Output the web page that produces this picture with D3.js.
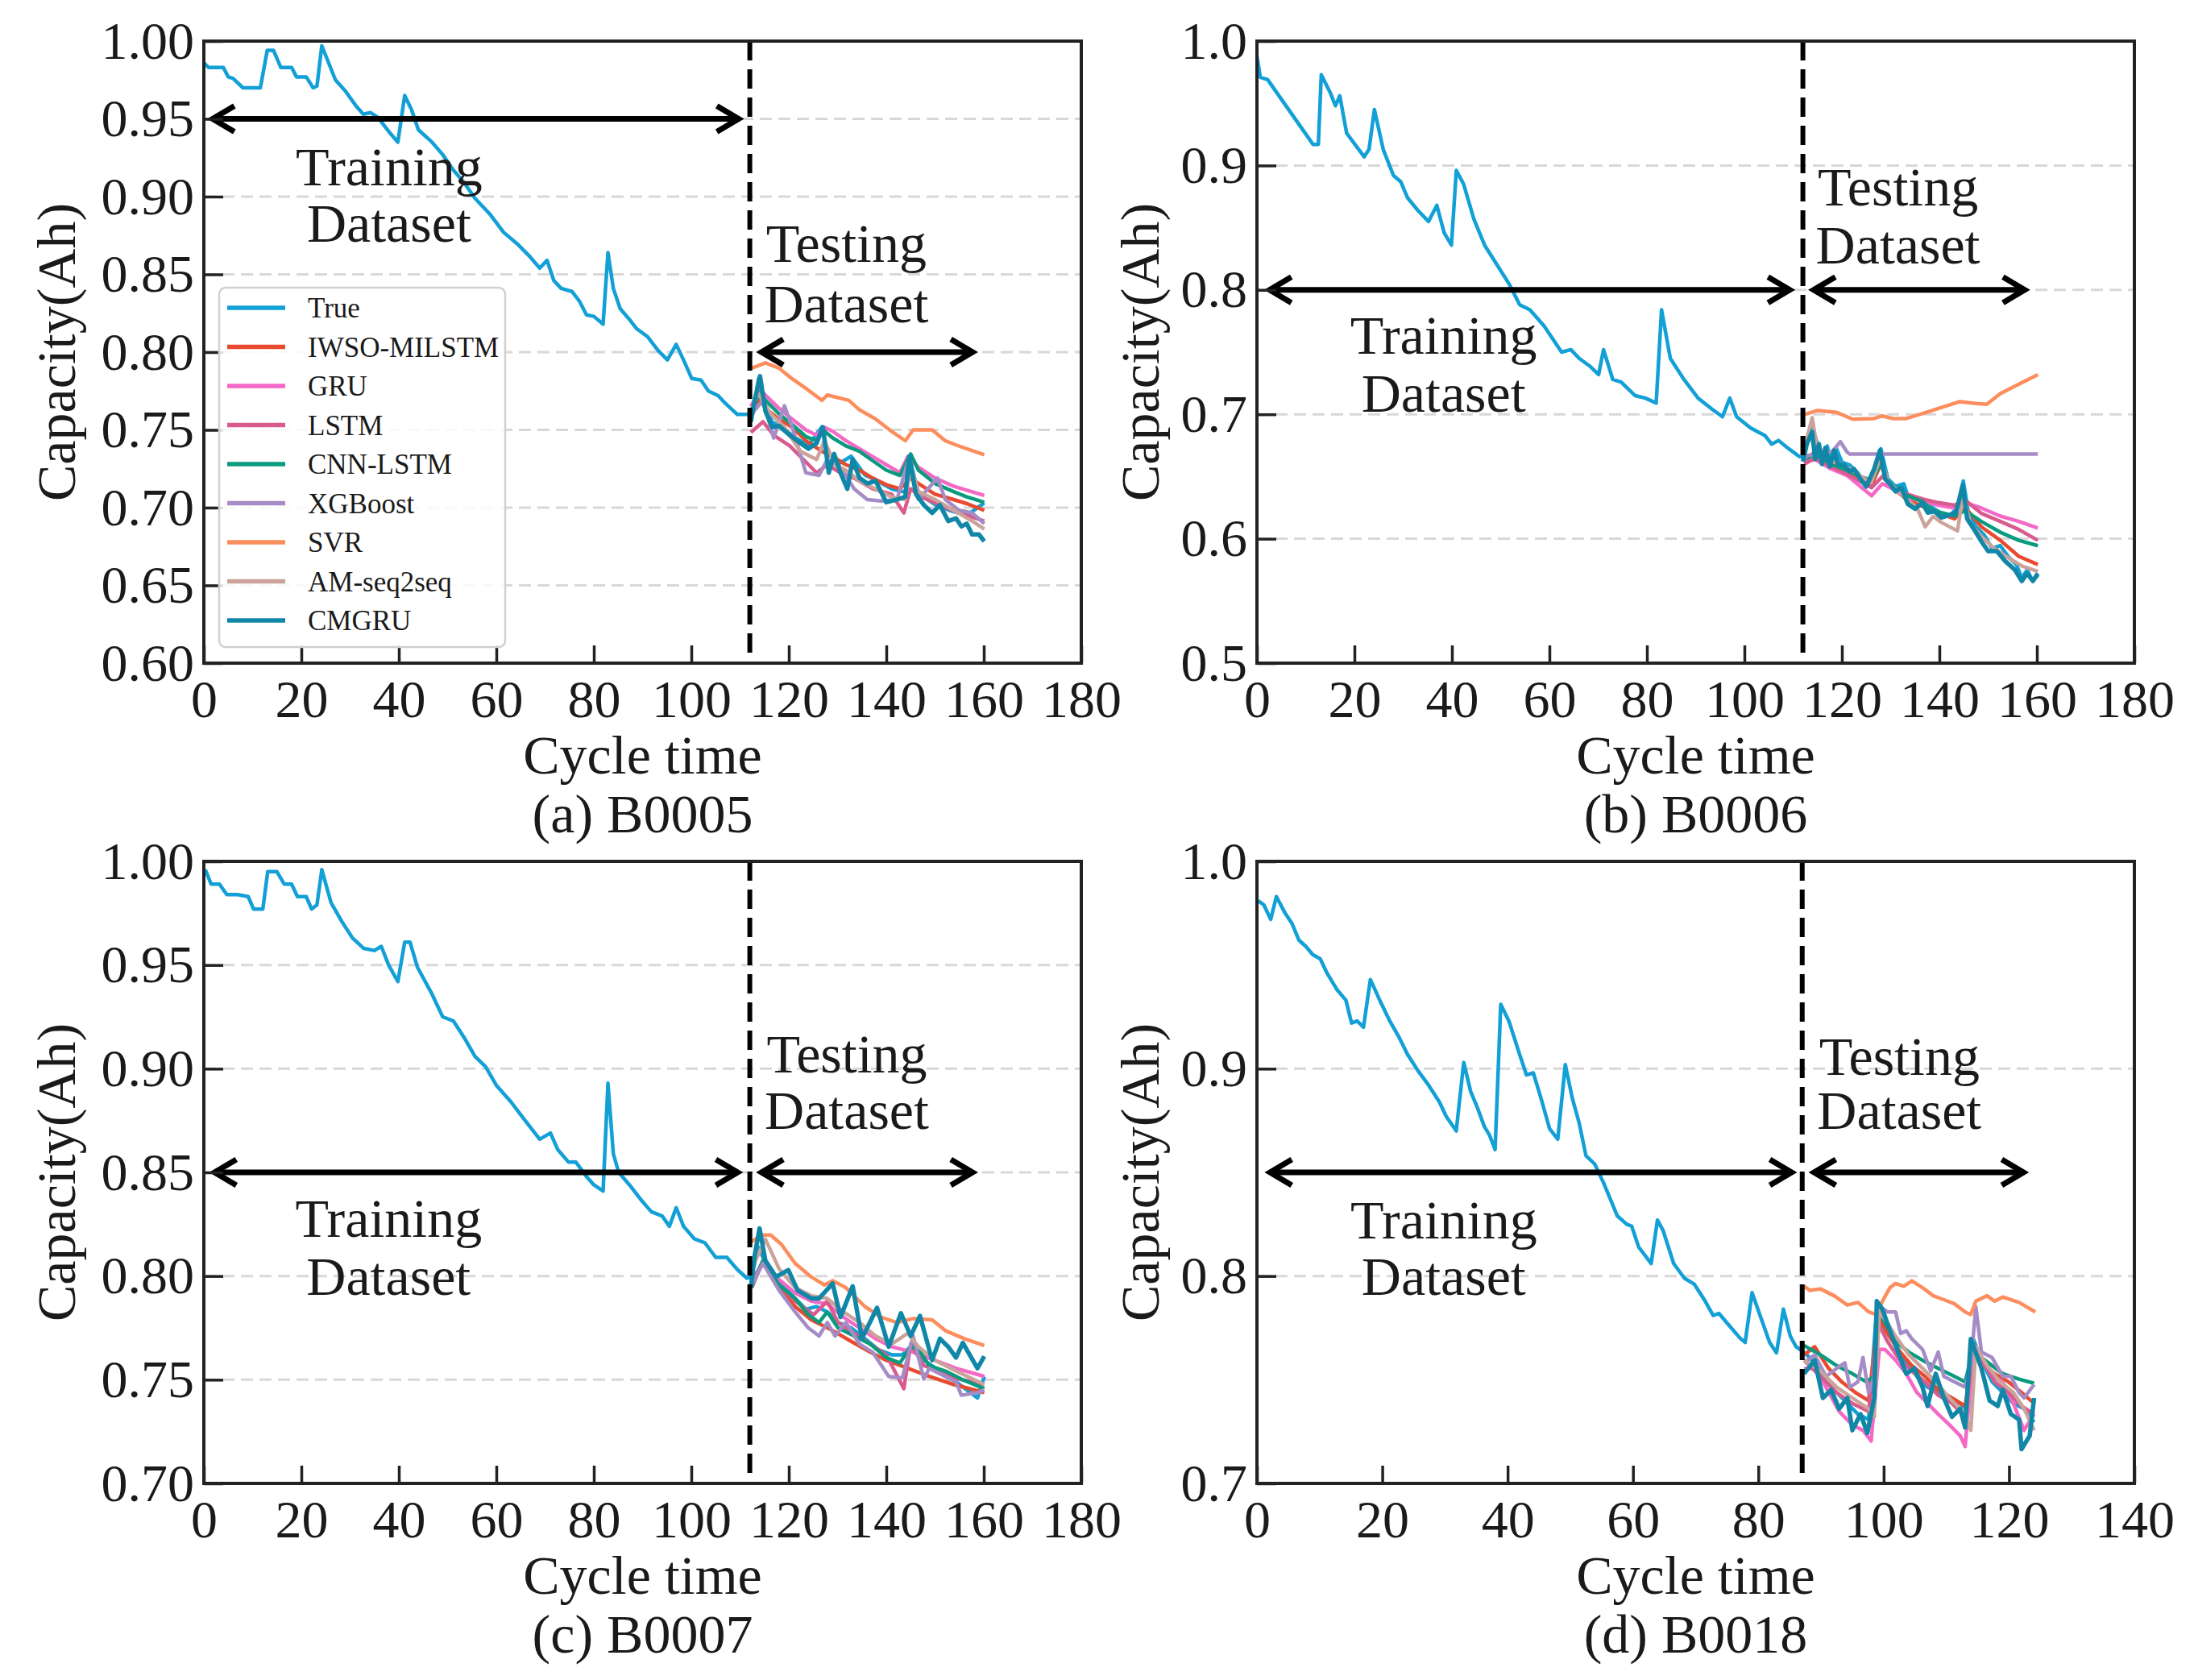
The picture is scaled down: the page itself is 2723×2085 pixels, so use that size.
<!DOCTYPE html>
<html>
<head>
<meta charset="utf-8">
<script src="https://cdn.jsdelivr.net/npm/d3@7"></script>
<style>
  body { margin: 0; background: #fff; }
  text { font-family: "Liberation Serif", "Times New Roman", serif; fill: #1a1a1a; }
</style>
</head>
<body>
<div id="chart"></div>
<script>
// Series names and colours (legend order)
const seriesNames = ["True", "IWSO-MILSTM", "GRU", "LSTM", "CNN-LSTM", "XGBoost", "SVR", "AM-seq2seq", "CMGRU"];
const seriesColors = ["#12a0d7", "#e84a2f", "#f569c6", "#d95b8e", "#0a9b7f", "#a68cc6", "#fc8e5e", "#cba39b", "#1187a8"];

// ---------- B0005 : [cycle, capacity] ----------
const b5True = [[0,0.986],[1,0.983],[2.5,0.983],[4,0.983],[5,0.977],[6,0.976],[8,0.970],[9,0.970],[11.6,0.970],[13,0.994],[14.3,0.994],[15.8,0.983],[18,0.983],[19,0.977],[21,0.977],[22.4,0.970],[23.2,0.971],[24.2,0.997],[27,0.975],[29,0.968],[31.3,0.958],[32.7,0.953],[34.2,0.954],[35.7,0.951],[37.9,0.942],[39.8,0.935],[41.2,0.965],[42.6,0.956],[44,0.943],[46.8,0.935],[49,0.927],[51.2,0.917],[53.4,0.909],[55.6,0.899],[58.6,0.889],[61.5,0.877],[64.5,0.869],[66.7,0.862],[68.9,0.854],[70.4,0.859],[71.8,0.846],[73.3,0.841],[75.5,0.839],[77,0.833],[78.5,0.824],[80,0.823],[81.9,0.818],[82.9,0.864],[84,0.841],[85.4,0.828],[87.3,0.821],[88.8,0.815],[91,0.810],[93.2,0.801],[95.1,0.795],[96.9,0.805],[98.4,0.795],[100.1,0.783],[102,0.782],[103.5,0.775],[105.5,0.772],[107,0.767],[109.4,0.760],[111.6,0.760],
  [112.1,0.7586],[113,0.767],[113.8,0.783],[114.9,0.766],[116.6,0.755],[118.5,0.752],[121.3,0.745],[124,0.740],[126.8,0.752],[127.9,0.736],[130.1,0.728],[132.8,0.733],[135.6,0.721],[138.3,0.717],[141.1,0.712],[143.9,0.710],[144.7,0.733],[146.6,0.709],[150,0.702],[153.2,0.698],[156.5,0.695],[160.1,0.703]];
const b5Iwso = [[112.2,0.758],[114.1,0.770],[115.2,0.7638],[118,0.7569],[120.7,0.7517],[123.5,0.7431],[126.8,0.7362],[129,0.7328],[131.7,0.7276],[134.5,0.7241],[137.2,0.7190],[140,0.7147],[142.8,0.7121],[145,0.7190],[146.6,0.7155],[150,0.7086],[153.8,0.7052],[156.5,0.7026],[160.1,0.6983]];
const b5Gru = [[112.2,0.765],[114.1,0.776],[115.2,0.7724],[118,0.7638],[120.7,0.7569],[123.5,0.7500],[125.7,0.7466],[127.3,0.7517],[129,0.7491],[131.7,0.7431],[134.5,0.7379],[137.2,0.7328],[140,0.7276],[142.8,0.7224],[144.4,0.7328],[146.6,0.7259],[150,0.7190],[153.8,0.7138],[156.5,0.7112],[160.1,0.7078]];
const b5Lstm = [[112.2,0.7483],[114.7,0.7552],[116.9,0.7466],[120.2,0.7397],[123.5,0.7293],[125.7,0.7224],[127.9,0.7276],[130.6,0.7224],[133.4,0.7190],[137.2,0.7121],[141.1,0.7086],[143.6,0.6966],[145,0.7121],[147.2,0.7069],[151,0.7017],[154.9,0.6966],[160.1,0.6914]];
const b5Cnn = [[112.2,0.762],[114.1,0.774],[115.2,0.7690],[118,0.7603],[120.7,0.7534],[123.5,0.7457],[125.7,0.7431],[127,0.7500],[129,0.7448],[131.7,0.7397],[134.5,0.7362],[137.2,0.7302],[140,0.7241],[142.8,0.7207],[145,0.7345],[146.6,0.7241],[150,0.7155],[153.8,0.7103],[156.5,0.7069],[160.1,0.7034]];
const b5Xgb = [[112.4,0.7603],[114.7,0.7690],[116.9,0.7448],[119.1,0.7655],[120.7,0.7517],[123.5,0.7224],[126.2,0.7207],[127.9,0.7310],[130.6,0.7259],[133.4,0.7121],[136.1,0.7052],[138.9,0.7043],[142.2,0.7052],[144.4,0.7293],[146.6,0.7052],[150.5,0.7190],[152.1,0.7052],[154.9,0.6983],[157.6,0.6966],[160.1,0.6897]];
const b5Svr = [[112.4,0.7897],[115.2,0.7931],[118,0.7897],[120.7,0.7828],[123.5,0.7767],[126.8,0.7690],[127.9,0.7724],[132.3,0.7690],[134.5,0.7629],[137.8,0.757],[141.1,0.749],[143.9,0.743],[145.5,0.750],[149.4,0.750],[152.1,0.743],[155.4,0.739],[160.1,0.734]];
const b5Am = [[112.2,0.760],[113.6,0.7741],[116.3,0.7603],[119.1,0.7517],[122.4,0.7362],[125.7,0.7310],[127.3,0.7431],[129.5,0.7276],[131.7,0.7241],[134.5,0.7172],[137.8,0.7121],[141.1,0.7069],[143.9,0.7052],[145,0.7276],[146.6,0.7103],[150,0.7052],[153.8,0.6983],[157.6,0.6914],[160.1,0.6862]];
const b5Cmgru = [[112.2,0.7552],[113,0.7690],[114.1,0.7845],[115.2,0.7621],[116.6,0.7517],[118,0.7526],[120.2,0.7466],[122.4,0.7414],[124,0.7379],[125.7,0.7414],[127,0.7517],[128.2,0.7224],[129.3,0.7345],[130.6,0.7224],[132,0.7121],[133.1,0.7310],[134.5,0.7190],[136.1,0.7155],[137.8,0.7172],[140,0.7034],[142.2,0.7052],[143.9,0.7069],[144.7,0.7328],[146.1,0.7086],[147.7,0.7017],[149.4,0.6966],[151,0.7017],[152.7,0.6914],[154.3,0.6931],[155.4,0.6879],[156.5,0.6897],[157.6,0.6828],[159,0.6828],[160.1,0.6784]];

// ---------- B0006 ----------
const b6True = [[0,0.988],[0.7,0.971],[2.2,0.969],[11.5,0.917],[12.6,0.917],[13.2,0.973],[15.1,0.958],[16.1,0.948],[17,0.956],[18.4,0.926],[20.1,0.917],[22,0.907],[23,0.913],[24.1,0.945],[25.9,0.913],[28,0.892],[29.5,0.887],[30.9,0.874],[33,0.864],[35.2,0.855],[36.9,0.868],[38.4,0.846],[39.9,0.836],[40.9,0.896],[42.4,0.885],[44.5,0.857],[46.7,0.836],[49.6,0.818],[51.7,0.805],[53.9,0.788],[56,0.784],[58.9,0.771],[62.5,0.750],[64.4,0.752],[66.1,0.745],[68.2,0.739],[70.1,0.732],[71.1,0.752],[73,0.728],[74.7,0.726],[77.6,0.715],[79.7,0.713],[81.9,0.709],[83,0.784],[84.8,0.745],[87.6,0.728],[90.5,0.713],[93.4,0.704],[95.5,0.698],[97,0.713],[98.4,0.698],[101.3,0.689],[104.2,0.683],[105.6,0.676],[107,0.679],[109.2,0.672],[111.3,0.666],
  [112,0.6658],[112.8,0.6810],[113.9,0.6896],[114.8,0.6788],[115.9,0.6637],[117,0.6745],[117.8,0.6593],[118.9,0.6723],[120,0.6615],[121.6,0.6593],[123.3,0.6528],[125,0.6442],[126.6,0.6528],[128,0.6723],[129.4,0.6485],[131,0.6420],[132.7,0.6442],[133.8,0.6312],[135.4,0.6269],[137.1,0.6290],[138.7,0.6247],[140.4,0.6204],[142,0.6182],[143.7,0.6247],[144.9,0.6464],[145.9,0.6225],[147.5,0.6096],[149.2,0.6031],[150.8,0.5922],[152.5,0.5944],[154.1,0.5858],[155.8,0.5793],[156.9,0.5684],[158,0.5749],[159.1,0.5662],[160.2,0.5706]];
const b6Iwso = [[112.3,0.662],[114.5,0.670],[117.8,0.660],[121.1,0.654],[123.8,0.648],[126.1,0.643],[128,0.660],[129.4,0.645],[131,0.639],[133.2,0.632],[136.5,0.626],[139.8,0.621],[143.1,0.616],[145.3,0.625],[148.6,0.6096],[152.5,0.5987],[156.3,0.5858],[160.2,0.5793]];
const b6Gru = [[112.3,0.6615],[114.5,0.6637],[117.8,0.6561],[121.1,0.6507],[123.8,0.6420],[126.1,0.6345],[128.3,0.6442],[130.5,0.6399],[133.2,0.6334],[136.5,0.6301],[139.8,0.6269],[143.1,0.6247],[145.3,0.6290],[148.6,0.6247],[152.5,0.6182],[156.3,0.6139],[160.2,0.6085]];
const b6Lstm = [[112.3,0.660],[114.5,0.665],[117.8,0.658],[121.1,0.652],[123.8,0.646],[126.1,0.641],[128.3,0.650],[130.5,0.641],[133.2,0.636],[136.5,0.632],[139.8,0.629],[143.1,0.627],[145.3,0.631],[148.6,0.6204],[152.5,0.6139],[156.3,0.6074],[160.2,0.5987]];
const b6Cnn = [[112.3,0.664],[114.5,0.668],[117.8,0.660],[121.1,0.655],[123.8,0.650],[126.1,0.647],[128,0.660],[129.4,0.647],[131,0.641],[133.2,0.635],[136.5,0.630],[138.7,0.6225],[140.4,0.621],[143.1,0.6182],[145.3,0.6225],[148.6,0.6139],[152.5,0.6052],[156.3,0.5987],[160.2,0.5944]];
const b6Xgb = [[112,0.663],[113,0.667],[115,0.668],[118,0.670],[119.7,0.678],[121,0.670],[121.6,0.668],[160.2,0.668]];
const b6Svr = [[112,0.6994],[115,0.7031],[118.9,0.7016],[122.2,0.6961],[126.6,0.6966],[128.3,0.6987],[130.5,0.6966],[133.2,0.6966],[136.5,0.7005],[139.8,0.7048],[144.2,0.7102],[147.5,0.7087],[149.7,0.7080],[152.5,0.7167],[156.3,0.7243],[160.2,0.7319]];
const b6Am = [[112,0.668],[113.9,0.6972],[114.8,0.676],[116,0.670],[117.8,0.662],[120,0.660],[122.2,0.655],[124,0.650],[126,0.645],[127.9,0.665],[129.4,0.647],[131,0.640],[133.2,0.632],[135.4,0.625],[137.1,0.6096],[138.7,0.618],[140.4,0.6131],[143.7,0.6063],[144.9,0.6355],[146.4,0.6117],[148.6,0.602],[151,0.593],[154,0.585],[157,0.578],[160.2,0.5738]];
const b6Cmgru = [[112,0.662],[112.8,0.676],[113.9,0.686],[114.5,0.664],[115.3,0.676],[115.9,0.660],[116.6,0.673],[117.5,0.658],[118.4,0.671],[119.2,0.660],[120.5,0.659],[121.6,0.654],[122.5,0.656],[123.8,0.648],[125,0.642],[126.6,0.656],[127.8,0.671],[128.9,0.648],[129.9,0.644],[131,0.638],[132.2,0.641],[133.5,0.628],[135,0.624],[136.5,0.629],[137.6,0.621],[139,0.622],[140.4,0.617],[142,0.619],[143.4,0.621],[144.8,0.643],[145.7,0.616],[147.2,0.607],[148.6,0.598],[150,0.590],[151.8,0.590],[153.5,0.582],[155.5,0.575],[156.9,0.566],[158,0.572],[159.2,0.566],[160.2,0.572]];

// ---------- B0007 ----------
const b7True = [[0.3,0.996],[1.5,0.989],[3.2,0.989],[4.7,0.984],[6.9,0.984],[9.1,0.983],[10.2,0.977],[12.1,0.977],[13.1,0.995],[15,0.995],[16.5,0.989],[18,0.989],[19.2,0.983],[21,0.983],[22.1,0.977],[23.2,0.979],[24.2,0.996],[26.1,0.980],[28.3,0.971],[30.5,0.963],[32.8,0.958],[35,0.957],[36.4,0.959],[37.9,0.950],[39.8,0.942],[41.2,0.961],[42.3,0.961],[43.8,0.949],[46.8,0.936],[49,0.925],[51.2,0.923],[53.4,0.915],[55.6,0.906],[57.8,0.901],[60,0.892],[63,0.884],[65.9,0.875],[68.9,0.866],[71.1,0.869],[72.6,0.861],[74.8,0.855],[76.3,0.855],[78.5,0.848],[80,0.844],[81.9,0.841],[82.9,0.893],[84,0.859],[85.1,0.850],[87.3,0.844],[89.6,0.837],[91.8,0.831],[94,0.829],[95.5,0.824],[96.9,0.833],[98.4,0.824],[100.6,0.818],[102.8,0.816],[105,0.809],[107.3,0.809],[109.5,0.803],[111.4,0.799],
  [112.2,0.7996],[113,0.8061],[113.8,0.8139],[115.2,0.8061],[118,0.7970],[121.3,0.7892],[123.5,0.7840],[125.7,0.7853],[127.9,0.7827],[130.1,0.7776],[132.8,0.7750],[135.6,0.7698],[138.3,0.7646],[141.1,0.7620],[143.3,0.7620],[145.5,0.7672],[147.7,0.7594],[151,0.7542],[154.3,0.7490],[156.5,0.7451],[158.7,0.7412],[160.1,0.7516]];
const b7Iwso = [[112.4,0.7944],[114.7,0.8074],[118,0.7944],[121.3,0.7853],[124.6,0.7789],[129,0.7737],[132.8,0.7685],[136.7,0.7633],[140,0.7594],[144.4,0.7555],[148.8,0.7516],[153.8,0.7477],[160.1,0.7438]];
const b7Gru = [[112.4,0.7983],[114.7,0.8061],[118,0.7983],[121.3,0.7918],[124.6,0.7879],[127.9,0.7866],[131.2,0.7802],[134.5,0.7750],[137.8,0.7698],[141.1,0.7659],[145.5,0.7633],[149.9,0.7594],[154.3,0.7555],[160.1,0.7516]];
const b7Lstm = [[112.4,0.7957],[114.7,0.8074],[118,0.7957],[121.3,0.7879],[125.1,0.7814],[127.9,0.7879],[130.1,0.7776],[133.4,0.7724],[136.7,0.7672],[140,0.7620],[143.6,0.7457],[145,0.7672],[147.7,0.7568],[151,0.7542],[154.9,0.7503],[160.1,0.7477]];
const b7Cnn = [[112.4,0.7951],[114.7,0.8074],[118,0.7957],[121.3,0.7892],[124,0.7814],[126.2,0.7776],[127.9,0.7827],[130.1,0.7750],[133.4,0.7711],[136.7,0.7672],[140,0.7607],[142.8,0.7581],[145,0.7659],[146.6,0.7646],[148.8,0.7568],[152.1,0.7542],[155.4,0.7503],[160.1,0.7457]];
const b7Xgb = [[112.4,0.7957],[114.7,0.8061],[118,0.7931],[121.3,0.7827],[124,0.7750],[126.2,0.7711],[127.9,0.7776],[129.5,0.7711],[131.7,0.7776],[134.5,0.7672],[137.2,0.7633],[140.5,0.7516],[143.3,0.7509],[145.5,0.7711],[147.7,0.7503],[148.8,0.7555],[151,0.7529],[154.3,0.7490],[155.4,0.7425],[158.7,0.7438],[160.1,0.7451]];
const b7Svr = [[112.2,0.8165],[114.7,0.8198],[116.3,0.8198],[118.5,0.8152],[121.3,0.8061],[124.6,0.7996],[127.3,0.7957],[129,0.7977],[131.7,0.7944],[135.6,0.7853],[138.9,0.7802],[142.2,0.7776],[145.5,0.7795],[149.4,0.7789],[152.1,0.7737],[156,0.7698],[160.1,0.7665]];
const b7Am = [[112.4,0.8035],[115.2,0.8178],[118,0.8035],[121.3,0.7944],[124.6,0.7905],[127.9,0.7892],[131.2,0.7827],[134.5,0.7776],[137.8,0.7711],[141.1,0.7672],[144.4,0.7724],[146.6,0.7659],[150,0.7594],[154.3,0.7542],[160.1,0.7477]];
const b7Cmgru = [[112.2,0.7944],[113,0.8100],[114,0.8230],[115.2,0.8074],[117.4,0.7996],[119.9,0.8029],[121.8,0.7931],[124.6,0.7892],[126.2,0.7892],[129,0.7964],[130.6,0.7802],[133.1,0.7951],[135,0.7698],[138.1,0.7847],[140.5,0.7659],[143,0.7821],[145,0.7711],[146.9,0.7808],[149.4,0.7594],[151,0.7698],[152.7,0.7659],[154.3,0.7607],[155.7,0.7678],[158.7,0.7555],[160.1,0.7613]];

// ---------- B0018 ----------
const b18True = [[0.2,0.981],[1.1,0.979],[2.2,0.972],[3.1,0.983],[4.5,0.975],[5.6,0.970],[6.7,0.962],[7.8,0.959],[8.9,0.955],[10.1,0.953],[11.2,0.946],[12.8,0.938],[14.2,0.933],[15.1,0.922],[16,0.923],[17,0.920],[18.1,0.943],[19.6,0.933],[21.2,0.923],[22.7,0.915],[24,0.907],[25.7,0.899],[27.4,0.892],[29.1,0.884],[30.2,0.877],[31.8,0.870],[33,0.903],[34.1,0.889],[35.2,0.881],[36.3,0.872],[37.1,0.868],[38,0.861],[38.9,0.931],[40.2,0.923],[41.9,0.907],[43,0.897],[44.1,0.898],[45.3,0.886],[46.7,0.871],[48,0.866],[49.2,0.902],[50.3,0.886],[51.4,0.874],[52.5,0.858],[53.9,0.854],[55.3,0.845],[56.4,0.837],[57.5,0.829],[59,0.825],[59.8,0.824],[60.9,0.814],[62.9,0.806],[63.9,0.827],[64.8,0.822],[66.5,0.806],[68.2,0.799],[69.8,0.796],[71.5,0.788],[72.8,0.781],[73.7,0.782],[75.4,0.776],[77.1,0.770],[77.9,0.768],[79,0.792],[80.4,0.780],[81.8,0.768],[82.9,0.763],[84,0.784],[85.1,0.771],[86,0.766],[86.9,0.764],
  [88.2,0.7607],[89.5,0.7555],[90.8,0.7490],[92.5,0.7438],[94.2,0.7386],[95.9,0.7334],[97.6,0.7308],[98.9,0.7853],[100.2,0.7762],[101.9,0.7672],[103.6,0.7581],[105.3,0.7516],[107,0.7464],[108.7,0.7438],[110.5,0.7412],[112.2,0.7386],[113.5,0.7347],[114.3,0.7697],[115.6,0.7594],[117.3,0.7490],[119,0.7438],[120.7,0.7386],[122.4,0.7360],[124,0.7295]];
const b18Iwso = [[87.3,0.7620],[89,0.7659],[91.2,0.7555],[93.3,0.7490],[95.5,0.7438],[97.6,0.7399],[99.1,0.7801],[100.6,0.7723],[102.3,0.7646],[104.5,0.7568],[106.6,0.7516],[108.7,0.7451],[110.9,0.7412],[113,0.7373],[114.3,0.7646],[116,0.7568],[117.7,0.7529],[119.9,0.7490],[122,0.7438],[124,0.7386]];
const b18Gru = [[87.3,0.7555],[89,0.7555],[90.8,0.7464],[92.9,0.7347],[95,0.7282],[96.7,0.7256],[98,0.7204],[99.3,0.7646],[100.2,0.7646],[101.9,0.7594],[103.6,0.7529],[105.3,0.7438],[107,0.7386],[108.7,0.7334],[110.5,0.7282],[112.2,0.7230],[113,0.7178],[114.3,0.7646],[115.6,0.7594],[117.3,0.7516],[119,0.7490],[120.7,0.7386],[122.4,0.7256],[124,0.7334]];
const b18Lstm = [[87.3,0.7594],[89.9,0.7516],[92.5,0.7438],[95,0.7386],[97.6,0.7347],[99.1,0.7775],[100.6,0.7685],[102.3,0.7607],[104.5,0.7542],[106.6,0.7490],[108.7,0.7425],[110.9,0.7386],[113,0.7321],[114.3,0.7672],[116,0.7581],[117.7,0.7490],[119.9,0.7438],[122,0.7373],[124,0.7334]];
const b18Cnn = [[87.3,0.7665],[89.9,0.7620],[92.5,0.7568],[95,0.7529],[97.2,0.7490],[98.5,0.7516],[99.1,0.7840],[100.2,0.7775],[101.9,0.7685],[104,0.7633],[106.2,0.7594],[108.7,0.7555],[111.3,0.7516],[113,0.7490],[114.3,0.7646],[115.6,0.7607],[117.3,0.7568],[119,0.7529],[121.6,0.7503],[124,0.7483]];
const b18Xgb = [[87.3,0.7581],[89,0.7620],[90.8,0.7516],[92.5,0.7555],[93.8,0.7581],[94.6,0.7464],[95.9,0.7490],[96.7,0.7607],[97.6,0.7438],[98.5,0.7516],[99.3,0.7853],[100.6,0.7827],[101.9,0.7827],[102.7,0.7723],[103.6,0.7736],[104.5,0.7697],[106.2,0.7646],[107.5,0.7542],[108.7,0.7633],[109.6,0.7516],[111.3,0.7490],[113,0.7464],[113.9,0.7568],[114.7,0.7853],[115.6,0.7633],[117.3,0.7607],[119,0.7516],[120.3,0.7516],[121.6,0.7438],[122.4,0.7412],[124,0.7477]];
const b18Svr = [[87.3,0.7951],[88.2,0.7931],[89.9,0.7938],[92.1,0.7905],[94.2,0.7860],[95.9,0.7873],[97.6,0.7827],[98.9,0.7814],[99.8,0.7879],[101,0.7944],[101.9,0.7964],[103.2,0.7951],[104.5,0.7977],[106.2,0.7944],[107.9,0.7905],[109.6,0.7886],[111.3,0.7866],[113,0.7827],[113.9,0.7814],[114.7,0.7879],[116.5,0.7905],[117.7,0.7879],[119,0.7899],[121.6,0.7873],[124.2,0.7827]];
const b18Am = [[87.3,0.7594],[89.9,0.7542],[92.5,0.7464],[95,0.7412],[97.6,0.7360],[98.5,0.7321],[99.3,0.7827],[100.6,0.7775],[101.9,0.7710],[104,0.7620],[106.2,0.7555],[108.3,0.7490],[110.5,0.7412],[113,0.7334],[113.9,0.7256],[114.7,0.7659],[116.5,0.7568],[118.6,0.7490],[120.7,0.7438],[122.4,0.7360],[124,0.7256]];
const b18Cmgru = [[87.3,0.7529],[89,0.7594],[90.3,0.7412],[91.6,0.7451],[92.9,0.7360],[94.2,0.7412],[95,0.7256],[96.3,0.7334],[97.4,0.7243],[98.5,0.7412],[98.9,0.7879],[99.8,0.7840],[101,0.7736],[102.3,0.7633],[103.6,0.7529],[104.9,0.7555],[106.2,0.7464],[107,0.7373],[108.3,0.7529],[109.6,0.7412],[110.9,0.7321],[112.2,0.7360],[113,0.7269],[113.9,0.7697],[115.6,0.7555],[116.9,0.7399],[118.2,0.7373],[119,0.7451],[120.3,0.7334],[121.6,0.7308],[122,0.7165],[123.3,0.7230],[124,0.7412]];

// Tick values
const xTicks180 = [0, 20, 40, 60, 80, 100, 120, 140, 160, 180];
const xTicks140 = [0, 20, 40, 60, 80, 100, 120, 140];
const yTicksA = [0.60, 0.65, 0.70, 0.75, 0.80, 0.85, 0.90, 0.95, 1.00];
const yTicksB = [0.5, 0.6, 0.7, 0.8, 0.9, 1.0];
const yTicksC = [0.70, 0.75, 0.80, 0.85, 0.90, 0.95, 1.00];
const yTicksD = [0.7, 0.8, 0.9, 1.0];

// Panels
const W = 2723, H = 2085;
const pw = 1089, ph = 772;

const panels = [
  { left: 253, top: 51, title: "(a) B0005", xMax: 180, xTicks: xTicks180, yDom: [0.6, 1.0], yTicks: yTicksA, fmt: ".2f",
    split: 112, arrowY: [0.95, 0.80], trainArr: [1.3, 110.2], testArr: [113.9, 158.2],
    trainText: [38, 0.907, 0.871], testText: [131.8, 0.858, 0.819], labOff: 160, legend: true,
    series: [b5True, b5Iwso, b5Gru, b5Lstm, b5Cnn, b5Xgb, b5Svr, b5Am, b5Cmgru] },
  { left: 1560, top: 51, title: "(b) B0006", xMax: 180, xTicks: xTicks180, yDom: [0.5, 1.0], yTicks: yTicksB, fmt: ".1f",
    split: 112, arrowY: [0.8, 0.8], trainArr: [2.1, 109.8], testArr: [113.7, 158],
    trainText: [38.3, 0.749, 0.702], testText: [131.5, 0.868, 0.821], labOff: 122, legend: false,
    series: [b6True, b6Iwso, b6Gru, b6Lstm, b6Cnn, b6Xgb, b6Svr, b6Am, b6Cmgru] },
  { left: 253, top: 1069, title: "(c) B0007", xMax: 180, xTicks: xTicks180, yDom: [0.7, 1.0], yTicks: yTicksC, fmt: ".2f",
    split: 112, arrowY: [0.85, 0.85], trainArr: [1.7, 110], testArr: [113.9, 158.2],
    trainText: [37.9, 0.819, 0.791], testText: [131.9, 0.898, 0.871], labOff: 160, legend: false,
    series: [b7True, b7Iwso, b7Gru, b7Lstm, b7Cnn, b7Xgb, b7Svr, b7Am, b7Cmgru] },
  { left: 1560, top: 1069, title: "(d) B0018", xMax: 140, xTicks: xTicks140, yDom: [0.7, 1.0], yTicks: yTicksD, fmt: ".1f",
    split: 87, arrowY: [0.85, 0.85], trainArr: [1.7, 85.7], testArr: [88.5, 122.7],
    trainText: [29.8, 0.818, 0.791], testText: [102.5, 0.897, 0.871], labOff: 122, legend: false,
    series: [b18True, b18Iwso, b18Gru, b18Lstm, b18Cnn, b18Xgb, b18Svr, b18Am, b18Cmgru] }
];

const svg = d3.select("#chart").append("svg")
  .attr("width", W).attr("height", H)
  .style("background", "#fff");

const drawArrow = (g, x1, x2, y) => {
  const hl = 30, hw = 16;
  g.append("line").attr("x1", x1 + 4).attr("x2", x2 - 4).attr("y1", y).attr("y2", y)
    .attr("stroke", "#000").attr("stroke-width", 7);
  g.append("path").attr("d", `M${x1 + hl},${y - hw}L${x1 + 3},${y}L${x1 + hl},${y + hw}`)
    .attr("fill", "none").attr("stroke", "#000").attr("stroke-width", 7).attr("stroke-linejoin", "miter");
  g.append("path").attr("d", `M${x2 - hl},${y - hw}L${x2 - 3},${y}L${x2 - hl},${y + hw}`)
    .attr("fill", "none").attr("stroke", "#000").attr("stroke-width", 7).attr("stroke-linejoin", "miter");
};

panels.forEach(p => {
  const g = svg.append("g").attr("transform", `translate(${p.left},${p.top})`);
  const x = d3.scaleLinear().domain([0, p.xMax]).range([0, pw]);
  const y = d3.scaleLinear().domain(p.yDom).range([ph, 0]);

  // grid
  g.append("g").selectAll("line")
    .data(p.yTicks.filter(t => t > p.yDom[0] + 1e-9 && t < p.yDom[1] - 1e-9))
    .join("line")
    .attr("x1", 0).attr("x2", pw)
    .attr("y1", d => y(d)).attr("y2", d => y(d))
    .attr("stroke", "#d8d8d8").attr("stroke-width", 3).attr("stroke-dasharray", "15,8");

  // lines
  const line = d3.line().x(d => x(d[0])).y(d => y(d[1]));
  p.series.forEach((s, i) => {
    g.append("path").datum(s)
      .attr("d", line)
      .attr("fill", "none")
      .attr("stroke", seriesColors[i])
      .attr("stroke-width", i === 8 ? 5.5 : 4.5)
      .attr("stroke-linejoin", "round");
  });

  // split line
  g.append("line")
    .attr("x1", x(p.split)).attr("x2", x(p.split))
    .attr("y1", 0).attr("y2", ph)
    .attr("stroke", "#000").attr("stroke-width", 6).attr("stroke-dasharray", "24,11");

  // arrows
  drawArrow(g, x(p.trainArr[0]), x(p.trainArr[1]), y(p.arrowY[0]));
  drawArrow(g, x(p.testArr[0]), x(p.testArr[1]), y(p.arrowY[1]));

  // annotation text
  const addText = (t, lines) => {
    lines.forEach((l, k) => {
      g.append("text").attr("x", x(t[0])).attr("y", y(t[k + 1]))
        .attr("text-anchor", "middle").attr("font-size", 68).text(l);
    });
  };
  addText(p.trainText, ["Training", "Dataset"]);
  addText(p.testText, ["Testing", "Dataset"]);

  // axes
  const xa = g.append("g").attr("transform", `translate(0,${ph})`)
    .call(d3.axisBottom(x).tickValues(p.xTicks).tickFormat(d3.format("d"))
      .tickSizeInner(-22).tickSizeOuter(0).tickPadding(20));
  const ya = g.append("g")
    .call(d3.axisLeft(y).tickValues(p.yTicks).tickFormat(d3.format(p.fmt))
      .tickSizeInner(-24).tickSizeOuter(0).tickPadding(12));
  [xa, ya].forEach(a => {
    a.select(".domain").remove();
    a.selectAll(".tick line").attr("stroke", "#222").attr("stroke-width", 3.5);
    a.selectAll(".tick text").attr("font-size", 66).attr("fill", "#1a1a1a")
      .style("font-family", '"Liberation Serif", "Times New Roman", serif');
  });

  // frame
  g.append("rect").attr("x", 0).attr("y", 0).attr("width", pw).attr("height", ph)
    .attr("fill", "none").attr("stroke", "#222").attr("stroke-width", 4);

  // labels
  g.append("text").attr("x", pw / 2).attr("y", ph + 137)
    .attr("text-anchor", "middle").attr("font-size", 68).text("Cycle time");
  g.append("text").attr("x", pw / 2).attr("y", ph + 210)
    .attr("text-anchor", "middle").attr("font-size", 68).text(p.title);
  g.append("text")
    .attr("transform", `translate(${-p.labOff},${ph / 2}) rotate(-90)`)
    .attr("text-anchor", "middle").attr("font-size", 68).text("Capacity(Ah)");

  // legend
  if (p.legend) {
    const lg = g.append("g").attr("transform", "translate(19,306)");
    lg.append("rect").attr("width", 355).attr("height", 446).attr("rx", 8)
      .attr("fill", "#fff").attr("fill-opacity", 0.85)
      .attr("stroke", "#d0d0d0").attr("stroke-width", 2.5);
    seriesNames.forEach((n, i) => {
      const yy = 25 + i * 48.5;
      lg.append("line").attr("x1", 10).attr("x2", 82).attr("y1", yy).attr("y2", yy)
        .attr("stroke", seriesColors[i]).attr("stroke-width", 5.5);
      lg.append("text").attr("x", 110).attr("y", yy + 12).attr("font-size", 35).text(n);
    });
  }
});
</script>
</body>
</html>
